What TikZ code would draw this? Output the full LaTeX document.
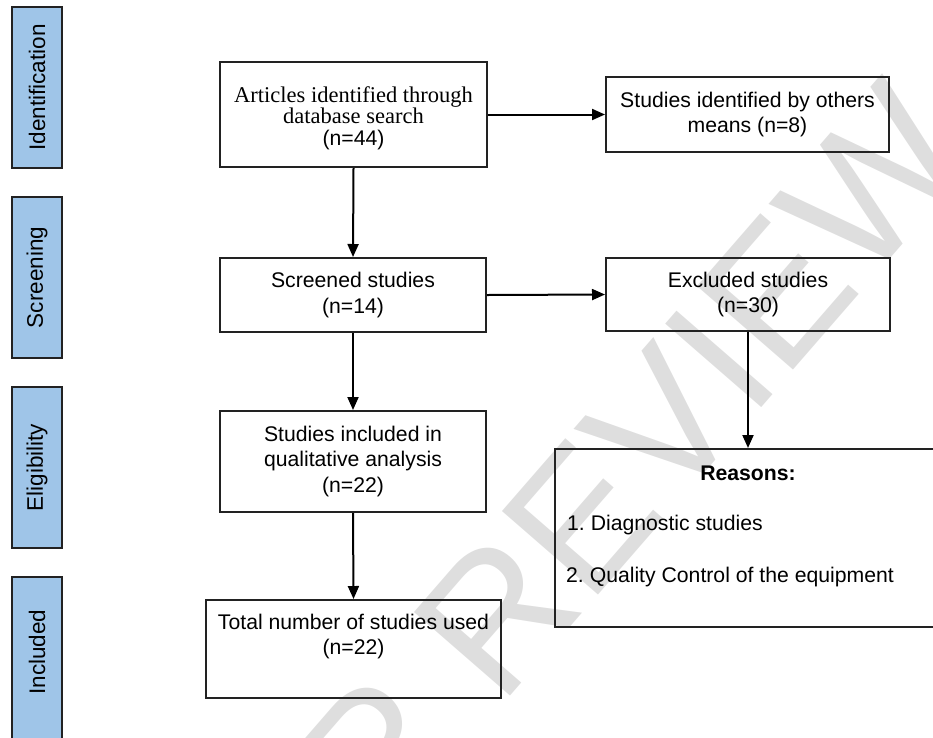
\documentclass[tikz,border=0pt]{standalone}
\usepackage{fontspec}
\setmainfont{Liberation Sans}
\newfontfamily\arialfont{Liberation Sans}
\newfontfamily\timesfont{Liberation Serif}
\usetikzlibrary{arrows.meta}
\definecolor{sidebl}{HTML}{9FC5E8}
\definecolor{edge}{HTML}{222222}
\definecolor{wmark}{HTML}{DEDEDE}
\frenchspacing
\tikzset{
  flowbox/.style={draw=edge, line width=2pt, inner sep=0pt, align=center,
    font=\arialfont\fontsize{21.2}{25.5}\selectfont},
  sidebox/.style={draw=edge, fill=sidebl, line width=2pt, inner sep=0pt,
    minimum width=50pt},
  sidetext/.style={rotate=90, font=\arialfont\fontsize{22.5}{25}\selectfont, inner sep=0pt},
  plain/.style={inner sep=0pt, align=center, font=\arialfont\fontsize{21.2}{25.5}\selectfont},
  flowarrow/.style={draw=black, line width=2pt, -{Triangle[length=13pt,width=11pt]}},
}
\begin{document}
\begin{tikzpicture}[x=1pt,y=-1pt]
\useasboundingbox (0,0) rectangle (933,737);
\clip (0,0) rectangle (933,737);
% watermark
\node (wm) [rotate=49, text=wmark, inner sep=0pt,
  font=\arialfont\fontsize{185}{185}\selectfont] at (510,600) {PEER REVIEW};
% sidebar
\node (sidA) [sidebox, minimum height=161pt] at (37,87.5) {};
\node (sidAt) [sidetext] at (sidA) {Identification};
\node (sidB) [sidebox, minimum height=161pt] at (37,277.5) {};
\node (sidBt) [sidetext] at (sidB) {Screening};
\node (sidC) [sidebox, minimum height=161pt] at (37,467.5) {};
\node (sidCt) [sidetext] at (sidC) {Eligibility};
\node (sidD) [sidebox, minimum height=200pt] at (37,677) {};
\node (sidDt) [sidetext] at (37,652) {Included};
% boxes
\node (art) [flowbox, minimum width=267pt, minimum height=105pt] at (353.5,114.5) {};
\node (artt) [plain, font=\timesfont\fontsize{22.5}{21.5}\selectfont] at (353.5,118) {Articles identified through\\ database search\\ \arialfont\fontsize{21.2}{22}\selectfont (n=44)};
\node (oth) [flowbox, minimum width=283pt, minimum height=75pt] at (747.5,114.5) {Studies identified by others\\ means (n=8)};
\node (scr) [flowbox, minimum width=266pt, minimum height=74pt] at (353,295) {Screened studies\\ (n=14)};
\node (exc) [flowbox, minimum width=284pt, minimum height=73pt] at (748,294.5) {Excluded studies\\ (n=30)};
\node (eli) [flowbox, minimum width=266pt, minimum height=101pt] at (353,461.5) {Studies included in\\ qualitative analysis\\ (n=22)};
\node (tot) [flowbox, minimum width=295pt, minimum height=98pt] at (353.5,649) {};
\node (tott) [plain] at (353.5,636.5) {Total number of studies used\\ (n=22)};
\node (rea) [flowbox, minimum width=386pt, minimum height=178pt] at (748,538) {};
\node (reah) [plain, font=\arialfont\bfseries\fontsize{21.2}{25.5}\selectfont] at (748,473) {Reasons:};
\node (rea1) [plain, anchor=west] at (567,525) {1. Diagnostic studies};
\node (rea2) [plain, anchor=west] at (566,577) {2. Quality Control of the equipment};
% arrows
\draw[flowarrow] (art.east) -- (oth.west);
\draw[flowarrow] (art.south) -- (scr.north);
\draw[flowarrow] (scr.east) -- (exc.west);
\draw[flowarrow] (scr.south) -- (eli.north);
\draw[flowarrow] (eli.south) -- (tot.north);
\draw[flowarrow] (exc.south) -- (rea.north);
\end{tikzpicture}
\end{document}
